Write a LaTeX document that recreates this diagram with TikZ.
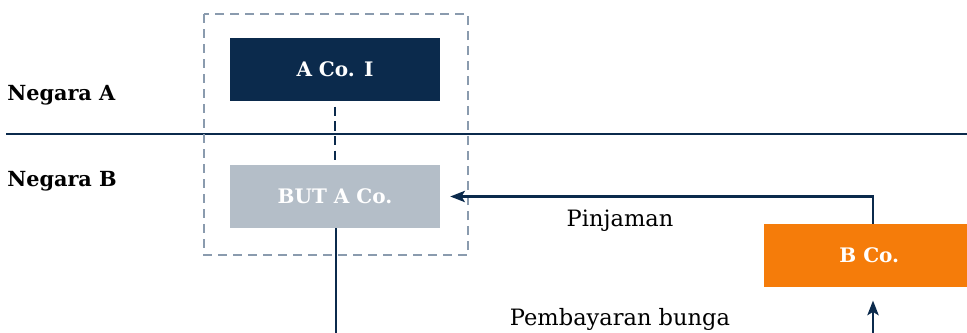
\documentclass[tikz,border=0pt]{standalone}
\usepackage{fontspec}
\setmainfont{DejaVu Serif}
\usetikzlibrary{arrows.meta}
\definecolor{navy}{HTML}{0B2A4C}
\definecolor{greyblue}{HTML}{B4BEC8}
\definecolor{dashgrey}{HTML}{8A9BAE}
\definecolor{orangeB}{HTML}{F57C0A}
\begin{document}
\begin{tikzpicture}[x=0.75pt,y=-0.75pt,
  entity/.style={minimum width=157.5pt,minimum height=47.25pt,inner sep=0pt,
    font=\fontsize{15}{18}\selectfont\bfseries,text=white},
  country/.style={anchor=west,inner sep=0pt,font=\fontsize{15.6}{18}\selectfont\bfseries},
  flowlabel/.style={inner sep=0pt,font=\fontsize{16.9}{20}\selectfont},
  link/.style={draw=navy,line width=1.6pt},
  flow/.style={link,-{Stealth[length=11pt,width=8.5pt,inset=2.5pt]}}]
\useasboundingbox (0,0) rectangle (967,332);
\begin{scope}
\clip (0,0) rectangle (967,332);
% border between the two countries
\draw[navy,line width=1.6pt] (6,134) -- (967,134);
% group boundary
\draw[dashgrey,line width=1.8pt,dash pattern=on 6.75pt off 4.5pt] (204,14) rectangle (468,255);
% entities
\node[entity,fill=navy] (aco) at (335,69.5) {A Co. I};
\node[entity,fill=greyblue] (but) at (335,196.5) {BUT A Co.};
\node[entity,fill=orangeB,anchor=west] (bco) at (764,255.5) {B Co.};
\node[country] (na) at (7,95) {Negara A};
\node[country] (nb) at (7,181) {Negara B};
% connectors
\coordinate (bottom) at (336,340);
\coordinate (pay) at (873,340);
\draw[link,line width=1.8pt,dash pattern=on 7pt off 4pt] ([yshift=-4pt]aco.south) -- ([yshift=2pt]but.north);
\draw[link] (but.south -| bottom) -- (bottom);
\draw[flow] (bco.north -| pay) |- ([xshift=7.5pt]but.east);
\draw[flow] (pay) -- ([yshift=-10pt]bco.south -| pay);
\node[flowlabel] (pin) at (620,221) {Pinjaman};
\node[flowlabel] (bunga) at (620,319) {Pembayaran bunga};
\end{scope}
\end{tikzpicture}
\end{document}
